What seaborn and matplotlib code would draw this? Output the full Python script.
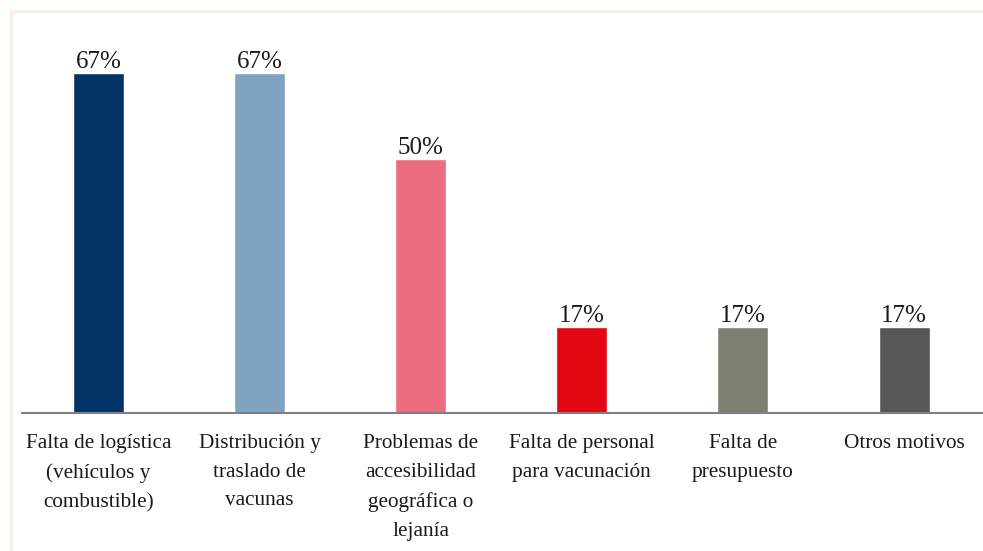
import numpy as np
import matplotlib.pyplot as plt
from matplotlib.lines import Line2D
import pandas as pd
import seaborn as sns

categories = [
    "Falta de logística\n(vehículos y\ncombustible)",
    "Distribución y\ntraslado de\nvacunas",
    "Problemas de\naccesibilidad\ngeográfica o\nlejanía",
    "Falta de personal\npara vacunación",
    "Falta de\npresupuesto",
    "Otros motivos",
]
values = [67, 67, 50, 17, 17, 17]
colors = ["#023366", "#7FA3C0", "#EC6D7D", "#E30613", "#7F7F71", "#575756"]

df = pd.DataFrame({"motivo": categories, "pct": values})

sns.set_style("white")
plt.rcParams["font.family"] = ["Liberation Serif", "DejaVu Serif"]

fig = plt.figure(figsize=(9.83, 5.51), dpi=100)
ax = fig.add_axes([22 / 983, (551 - 413) / 551, 1 - 22 / 983, (413 - 20) / 551])

sns.barplot(data=df, x="motivo", y="pct", hue="motivo", palette=colors,
            legend=False, width=0.317, saturation=1, ax=ax)

for c in ax.containers:
    ax.bar_label(c, labels=[f"{v:.0f}%" for v in c.datavalues],
                 fontsize=18, color="#1a1a1a", padding=0)

ax.set_xlim(-0.475, 5.49)
ax.set_ylim(0, 77.4)
ax.set_xlabel("")
ax.set_ylabel("")
ax.set_yticks([])
ax.tick_params(axis="x", length=0, pad=15, labelsize=15.3, labelcolor="#1a1a1a")
for lbl in ax.get_xticklabels():
    lbl.set_linespacing(1.7)
    lbl.set_verticalalignment("top")
for s in ["top", "right", "left"]:
    ax.spines[s].set_visible(False)
ax.spines["bottom"].set_color("#808080")
ax.spines["bottom"].set_linewidth(1.5)

# peach frame
fig.add_artist(Line2D([10.5 / 983, 1], [1 - 11 / 551, 1 - 11 / 551],
                      transform=fig.transFigure, color="#FDEEE3", lw=2.5))
fig.add_artist(Line2D([10.5 / 983, 10.5 / 983], [0, 1 - 11 / 551],
                      transform=fig.transFigure, color="#FDEEE3", lw=2.5))

fig.savefig("out.png", dpi=100)
